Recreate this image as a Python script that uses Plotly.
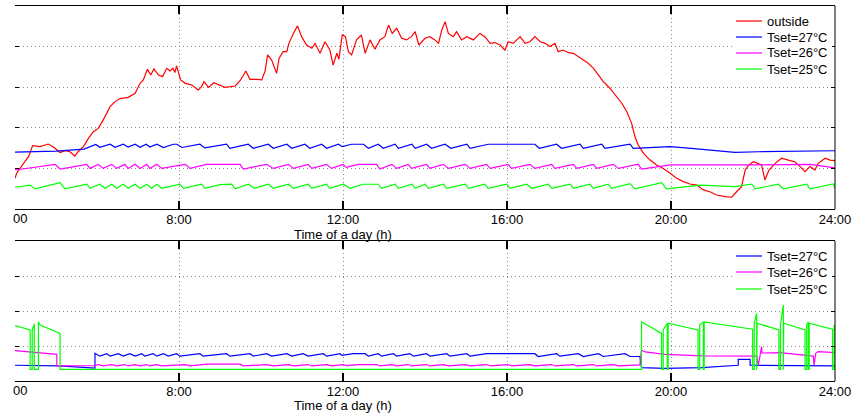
import plotly.graph_objects as go

# ---------------- data (hour of day, value) ----------------
outside = [
    (4.00, 25.51), (4.04, 25.76), (4.24, 26.33), (4.33, 26.58), (4.43, 27.12), (4.61, 27.07),
    (4.81, 27.20), (4.93, 27.07), (5.10, 26.78), (5.22, 26.87), (5.34, 26.82), (5.46, 26.61),
    (5.54, 26.82), (5.67, 27.07), (5.79, 27.48), (5.91, 27.81), (6.03, 27.97), (6.15, 28.38),
    (6.32, 29.04), (6.44, 29.29), (6.56, 29.44), (6.76, 29.50), (6.93, 29.70), (7.05, 30.19),
    (7.13, 30.36), (7.23, 30.88), (7.31, 30.60), (7.39, 30.90), (7.50, 30.60), (7.60, 30.52),
    (7.70, 30.93), (7.78, 30.80), (7.85, 30.93), (7.90, 30.72), (7.94, 31.05), (8.04, 30.36),
    (8.15, 30.19), (8.31, 30.11), (8.47, 29.86), (8.55, 30.03), (8.61, 30.27), (8.72, 29.99),
    (8.85, 30.22), (9.12, 29.99), (9.37, 30.06), (9.49, 30.32), (9.63, 30.80), (9.73, 30.39),
    (9.89, 30.39), (10.02, 30.36), (10.10, 30.80), (10.16, 31.59), (10.26, 31.34), (10.38, 30.68),
    (10.44, 31.42), (10.54, 31.75), (10.63, 31.75), (10.68, 32.16), (10.79, 32.65), (10.89, 33.02),
    (10.99, 32.49), (11.11, 32.08), (11.24, 31.92), (11.32, 32.16), (11.44, 31.67), (11.56, 32.24),
    (11.68, 31.83), (11.76, 31.09), (11.85, 31.67), (11.90, 31.37), (11.98, 32.57), (12.06, 32.49),
    (12.13, 31.75), (12.21, 31.59), (12.33, 32.33), (12.45, 32.57), (12.54, 31.67), (12.66, 32.33),
    (12.78, 31.87), (12.90, 32.33), (13.02, 32.49), (13.11, 33.06), (13.20, 32.65), (13.31, 32.90),
    (13.43, 32.41), (13.55, 32.33), (13.67, 32.49), (13.76, 32.74), (13.85, 32.08), (14.00, 32.41),
    (14.12, 32.49), (14.24, 32.33), (14.33, 32.16), (14.41, 32.82), (14.49, 33.23), (14.57, 32.65),
    (14.69, 32.49), (14.77, 32.74), (14.89, 32.33), (15.02, 32.49), (15.18, 32.33), (15.34, 32.65),
    (15.46, 32.49), (15.59, 32.16), (15.71, 32.20), (15.83, 32.08), (15.95, 31.83), (16.03, 32.24),
    (16.15, 32.16), (16.32, 32.49), (16.44, 32.16), (16.56, 32.24), (16.68, 32.49), (16.81, 32.24),
    (16.93, 32.16), (17.05, 32.00), (17.17, 32.16), (17.25, 31.75), (17.37, 31.83), (17.50, 31.70),
    (17.62, 31.67), (17.74, 31.50), (17.86, 31.34), (17.98, 31.18), (18.11, 30.93), (18.23, 30.60),
    (18.35, 30.27), (18.51, 29.95), (18.67, 29.57), (18.80, 29.21), (18.92, 28.80), (19.04, 28.22),
    (19.12, 27.57), (19.20, 27.15), (19.33, 26.74), (19.49, 26.41), (19.65, 26.17), (19.81, 26.00),
    (19.98, 25.76), (20.14, 25.51), (20.30, 25.35), (20.46, 25.23), (20.63, 25.18), (20.79, 24.94),
    (20.95, 24.85), (21.11, 24.69), (21.32, 24.61), (21.48, 24.58), (21.60, 24.85), (21.72, 25.10),
    (21.81, 25.92), (21.90, 26.17), (22.01, 26.33), (22.13, 26.25), (22.21, 26.17), (22.29, 25.43),
    (22.39, 25.92), (22.54, 26.25), (22.70, 26.50), (22.86, 26.41), (23.02, 26.33), (23.15, 26.09),
    (23.27, 25.84), (23.39, 26.09), (23.51, 25.92), (23.59, 26.25), (23.76, 26.50), (23.88, 26.41),
    (24.00, 26.38),
]

room_27 = [
    (4.00, 26.80), (5.00, 26.85), (5.68, 26.95), (5.97, 27.18), (6.07, 27.04), (6.32, 27.19),
    (6.44, 27.04), (6.64, 27.19), (6.76, 27.05), (6.93, 27.19), (7.05, 27.04), (7.20, 27.19),
    (7.29, 27.05), (7.46, 27.19), (7.62, 27.03), (7.86, 27.19), (7.95, 27.19), (8.07, 27.03),
    (8.51, 27.19), (8.63, 27.01), (9.16, 27.19), (9.24, 26.99), (9.69, 27.19), (9.81, 26.99),
    (10.18, 27.19), (10.30, 26.99), (10.63, 27.19), (10.75, 26.99), (11.07, 27.19), (11.19, 26.99),
    (11.48, 27.19), (11.60, 26.99), (11.89, 27.19), (11.98, 27.07), (12.21, 27.19), (12.50, 27.19),
    (12.62, 26.99), (12.86, 27.19), (12.98, 26.99), (13.27, 27.19), (13.35, 26.99), (13.68, 27.19),
    (13.76, 26.99), (14.04, 27.19), (14.16, 26.99), (14.49, 27.19), (14.63, 26.99), (15.02, 27.19),
    (15.10, 26.99), (15.54, 27.19), (16.68, 27.19), (16.79, 26.99), (17.21, 27.19), (17.33, 26.99),
    (17.78, 27.19), (17.86, 26.99), (18.31, 27.19), (18.39, 26.99), (19.00, 27.19), (19.08, 26.99),
    (19.98, 27.07), (20.50, 26.99), (21.56, 26.79), (22.13, 26.82), (24.00, 26.87),
]

room_26 = [
    (4.00, 25.92), (4.98, 26.20), (5.10, 25.97), (5.75, 26.20), (5.83, 26.00), (6.03, 26.20),
    (6.15, 26.00), (6.36, 26.20), (6.48, 26.00), (6.68, 26.20), (6.76, 26.00), (6.93, 26.20),
    (7.05, 26.00), (7.21, 26.20), (7.29, 26.00), (7.46, 26.20), (7.58, 26.00), (8.15, 26.20),
    (8.27, 26.00), (8.67, 26.20), (9.49, 26.20), (9.57, 25.97), (10.14, 26.20), (10.30, 26.00),
    (10.67, 26.20), (10.79, 26.00), (11.15, 26.20), (11.24, 26.00), (11.60, 26.20), (11.72, 26.00),
    (12.00, 26.20), (12.08, 26.05), (12.37, 26.20), (12.82, 26.20), (12.90, 25.97), (13.19, 26.20),
    (13.31, 26.00), (13.59, 26.20), (13.67, 26.00), (14.04, 26.20), (14.12, 26.00), (14.45, 26.20),
    (14.57, 26.00), (14.98, 26.20), (15.10, 26.00), (15.50, 26.20), (15.59, 26.00), (16.03, 26.20),
    (16.11, 26.00), (16.56, 26.20), (16.68, 26.00), (17.09, 26.20), (17.17, 26.00), (17.62, 26.20),
    (17.70, 26.00), (18.11, 26.20), (18.19, 26.00), (18.59, 26.20), (18.72, 26.00), (19.20, 26.21),
    (19.28, 25.97), (19.98, 26.17), (22.13, 26.17), (23.40, 26.20), (24.00, 26.03),
]

room_25 = [
    (4.00, 25.07), (4.37, 25.18), (4.49, 24.99), (5.10, 25.30), (5.22, 24.99), (5.75, 25.22),
    (5.83, 25.02), (6.07, 25.22), (6.19, 25.02), (6.36, 25.22), (6.48, 25.02), (6.64, 25.22),
    (6.76, 25.02), (6.93, 25.22), (7.05, 25.02), (7.21, 25.22), (7.33, 25.02), (7.46, 25.22),
    (7.58, 25.02), (8.02, 25.22), (8.11, 25.02), (8.55, 25.22), (8.63, 25.02), (9.00, 25.20),
    (9.28, 25.22), (9.37, 24.99), (9.69, 25.22), (9.84, 25.02), (10.18, 25.22), (10.30, 25.02),
    (10.67, 25.22), (10.79, 25.02), (11.15, 25.22), (11.24, 25.02), (11.60, 25.22), (11.68, 25.02),
    (12.01, 25.22), (12.17, 25.02), (12.49, 25.22), (12.86, 25.22), (12.94, 25.02), (13.27, 25.22),
    (13.35, 25.02), (13.68, 25.22), (13.76, 25.02), (14.00, 25.22), (14.08, 25.02), (14.45, 25.22),
    (14.53, 25.02), (14.98, 25.22), (15.06, 25.02), (15.46, 25.22), (15.54, 25.02), (15.99, 25.22),
    (16.07, 25.02), (16.48, 25.22), (16.60, 25.02), (17.01, 25.22), (17.09, 25.02), (17.54, 25.22),
    (17.62, 25.02), (18.02, 25.22), (18.11, 25.02), (18.47, 25.22), (18.55, 25.02), (19.00, 25.25),
    (19.12, 24.99), (19.77, 25.30), (19.89, 24.99), (20.71, 25.18), (21.56, 25.10), (21.97, 25.23),
    (22.05, 24.99), (22.62, 25.22), (22.74, 24.99), (23.31, 25.22), (23.39, 24.99), (23.96, 25.23),
    (24.00, 25.02),
]

power_27 = [
    (4.00, 0.45), (5.06, 0.43), (5.95, 0.37), (5.95, 0.79), (6.07, 0.71), (6.24, 0.78), (6.32, 0.71),
    (6.52, 0.78), (6.64, 0.71), (6.80, 0.78), (6.93, 0.71), (7.09, 0.78), (7.17, 0.71), (7.37, 0.78),
    (7.46, 0.71), (7.62, 0.78), (7.74, 0.71), (7.94, 0.78), (8.02, 0.71), (8.51, 0.78), (8.59, 0.71),
    (9.16, 0.78), (9.24, 0.71), (9.73, 0.78), (9.81, 0.71), (10.14, 0.78), (10.26, 0.71), (10.63, 0.78),
    (10.75, 0.71), (11.03, 0.78), (11.15, 0.71), (11.52, 0.78), (11.60, 0.71), (11.93, 0.78),
    (11.97, 0.73), (12.25, 0.78), (12.54, 0.78), (12.62, 0.71), (12.86, 0.78), (12.94, 0.71),
    (13.23, 0.78), (13.31, 0.71), (13.63, 0.78), (13.72, 0.71), (14.04, 0.78), (14.12, 0.71),
    (14.53, 0.78), (14.61, 0.71), (15.02, 0.78), (15.10, 0.71), (15.50, 0.78), (16.68, 0.78),
    (16.76, 0.70), (17.21, 0.78), (17.29, 0.71), (17.74, 0.78), (17.86, 0.70), (18.23, 0.78),
    (18.35, 0.70), (18.88, 0.78), (19.00, 0.70), (19.24, 0.70), (19.28, 0.38), (19.85, 0.36),
    (20.75, 0.38), (21.64, 0.45), (21.64, 0.62), (21.93, 0.62), (21.93, 0.45), (22.21, 0.45),
    (24.00, 0.43),
]

power_26 = [
    (4.00, 0.87), (5.02, 0.76), (5.02, 0.43), (5.95, 0.44), (6.03, 0.47), (6.15, 0.43), (6.36, 0.47),
    (6.48, 0.43), (6.68, 0.47), (6.76, 0.43), (6.93, 0.47), (7.05, 0.43), (7.21, 0.47), (7.29, 0.43),
    (7.46, 0.47), (7.58, 0.43), (8.15, 0.47), (8.27, 0.43), (8.67, 0.48), (9.49, 0.48), (9.57, 0.43),
    (10.14, 0.47), (10.30, 0.43), (10.67, 0.47), (10.79, 0.43), (11.15, 0.47), (11.24, 0.43),
    (11.60, 0.47), (11.72, 0.43), (12.00, 0.47), (12.08, 0.44), (12.37, 0.47), (12.82, 0.47),
    (12.90, 0.43), (13.19, 0.47), (13.31, 0.43), (13.59, 0.47), (13.67, 0.43), (14.04, 0.47),
    (14.12, 0.43), (14.45, 0.47), (14.57, 0.43), (14.98, 0.47), (15.10, 0.43), (15.50, 0.47),
    (15.59, 0.43), (16.03, 0.47), (16.11, 0.43), (16.56, 0.47), (16.68, 0.43), (17.09, 0.47),
    (17.17, 0.43), (17.62, 0.47), (17.70, 0.43), (18.11, 0.47), (18.19, 0.43), (18.59, 0.47),
    (18.72, 0.43), (19.24, 0.46), (19.28, 0.88), (19.37, 0.83), (19.85, 0.76), (20.75, 0.72),
    (22.09, 0.71), (22.13, 0.45), (22.17, 0.69), (22.21, 0.98), (22.22, 0.80), (22.66, 0.81),
    (23.47, 0.71), (23.49, 0.45), (23.53, 0.79), (23.59, 0.84), (24.00, 0.81),
]

power_25 = [
    (4.00, 1.58), (4.37, 1.46), (4.37, 0.33), (4.42, 0.33), (4.42, 1.46), (4.47, 1.63), (4.47, 0.33),
    (4.57, 0.33), (4.57, 1.69), (4.61, 1.60), (5.10, 1.36), (5.10, 0.33), (19.28, 0.33), (19.28, 1.69),
    (19.77, 1.36), (19.77, 0.33), (19.81, 0.33), (19.81, 1.46), (19.91, 1.65), (19.91, 0.33),
    (19.93, 0.33), (19.93, 1.65), (20.66, 1.46), (20.66, 0.33), (20.70, 0.33), (20.70, 1.60),
    (20.79, 1.69), (20.79, 0.33), (20.81, 0.33), (20.81, 1.69), (21.99, 1.48), (21.99, 0.33),
    (22.03, 0.33), (22.03, 1.65), (22.09, 1.93), (22.09, 0.33), (22.10, 0.33), (22.10, 1.65),
    (22.63, 1.46), (22.63, 0.33), (22.67, 0.33), (22.67, 1.62), (22.74, 2.17), (22.74, 0.33),
    (22.75, 0.33), (22.75, 1.65), (23.27, 1.46), (23.27, 0.33), (23.31, 0.33), (23.31, 1.60),
    (23.35, 1.69), (23.35, 0.33), (23.37, 0.33), (23.37, 1.65), (23.94, 1.48), (23.94, 0.33),
    (23.98, 0.33), (23.98, 1.58), (24.00, 1.58),
]

x_tickvals = [4, 8, 12, 16, 20, 24]
x_ticktext = ["", "8:00", "12:00", "16:00", "20:00", "24:00"]
top_names = ["outside", "Tset=27°C", "Tset=26°C", "Tset=25°C"]
bottom_names = ["Tset=27°C", "Tset=26°C", "Tset=25°C"]
x_title = "Time of a day (h)"

RED, BLUE, MAG, GRN = "#ff0000", "#0000ff", "#ff00ff", "#00ff00"

# ---------------- layout geometry ----------------
W, H = 865, 414
L, R, T, B = 15, 30, 6, 33
PW, PH = W - L - R, H - T - B


def px(xp):
    return (xp - L) / PW


def py(yp):
    return (H - B - yp) / PH


FONT = "Liberation Sans, Arial, Helvetica, sans-serif"

fig = go.Figure()


def add(series, color, ax):
    xs = [p[0] for p in series]
    ys = [p[1] for p in series]
    fig.add_trace(go.Scatter(x=xs, y=ys, mode="lines", showlegend=False,
                             line=dict(color=color, width=1.2),
                             xaxis="x" if ax == 1 else "x2",
                             yaxis="y" if ax == 1 else "y2",
                             hoverinfo="skip"))


add(outside, RED, 1)
add(room_27, BLUE, 1)
add(room_26, MAG, 1)
add(room_25, GRN, 1)
add(power_27, BLUE, 2)
add(power_26, MAG, 2)
add(power_25, GRN, 2)

xcommon = dict(range=[4, 24], tickvals=x_tickvals, ticktext=x_ticktext,
               ticks="inside", ticklen=8, tickwidth=1.5, tickcolor="black",
               showline=True, linecolor="black", linewidth=1, mirror="ticks",
               showgrid=True, gridcolor="#8a8a8a", gridwidth=1, griddash="1px,3px",
               zeroline=False, tickfont=dict(family=FONT, size=13, color="black"),
               ticklabelstandoff=-2,
               domain=[0, 1], fixedrange=True)
ycommon = dict(ticks="inside", ticklen=4, tickwidth=1, tickcolor="black",
               showline=False, mirror="ticks", showticklabels=False,
               showgrid=True, gridcolor="#8a8a8a", gridwidth=1, griddash="1px,3px",
               zeroline=False, fixedrange=True)

fig.update_layout(
    width=W, height=H,
    margin=dict(l=L, r=R, t=T, b=B, autoexpand=False),
    paper_bgcolor="white", plot_bgcolor="white",
    font=dict(family=FONT, size=13, color="black"),
    xaxis=dict(anchor="y", **xcommon),
    xaxis2=dict(anchor="y2", **xcommon),
    yaxis=dict(anchor="x", domain=[py(209), 1], range=[24, 34], tick0=24, dtick=2, **ycommon),
    yaxis2=dict(anchor="x2", domain=[0, py(241)], range=[0, 4], tick0=0, dtick=1, **ycommon),
)

shapes = []
annotations = []
# right spines
shapes.append(dict(type="line", xref="paper", yref="paper", x0=1, x1=1, y0=py(209), y1=1,
                   line=dict(color="black", width=1), layer="above"))
shapes.append(dict(type="line", xref="paper", yref="paper", x0=1, x1=1, y0=0, y1=py(241),
                   line=dict(color="black", width=1), layer="above"))

# legend backgrounds
shapes.append(dict(type="rect", xref="paper", yref="paper", x0=px(733), x1=px(832),
                   y0=py(78), y1=py(10), fillcolor="white", line=dict(width=0), layer="above"))
shapes.append(dict(type="rect", xref="paper", yref="paper", x0=px(733), x1=px(832),
                   y0=py(298), y1=py(246), fillcolor="white", line=dict(width=0), layer="above"))


def legend(names, colors, rows):
    for name, col, yy in zip(names, colors, rows):
        shapes.append(dict(type="line", xref="paper", yref="paper", x0=px(736), x1=px(762),
                           y0=py(yy), y1=py(yy), line=dict(color=col, width=1.2), layer="above"))
        annotations.append(dict(text=name, xref="paper", yref="paper", x=px(765), y=py(yy),
                                xanchor="left", yanchor="middle", showarrow=False,
                                font=dict(family=FONT, size=13, color="black")))


legend(top_names, [RED, BLUE, MAG, GRN], [21, 37, 53, 69])
legend(bottom_names, [BLUE, MAG, GRN], [256, 272, 289])

# axis titles
for yy in (234, 405.5):
    annotations.append(dict(text=x_title, xref="paper", yref="paper", x=px(342.5), y=py(yy),
                            xanchor="center", yanchor="middle", showarrow=False,
                            font=dict(family=FONT, size=13, color="black")))
# clipped first tick label (only "00" of "4:00" visible in the original)
for yy in (218, 390.5):
    annotations.append(dict(text="00", xref="paper", yref="paper", x=px(19.5), y=py(yy),
                            xanchor="center", yanchor="middle", showarrow=False,
                            font=dict(family=FONT, size=13, color="black")))

fig.update_layout(shapes=shapes, annotations=annotations)
fig.write_html("out.html")
